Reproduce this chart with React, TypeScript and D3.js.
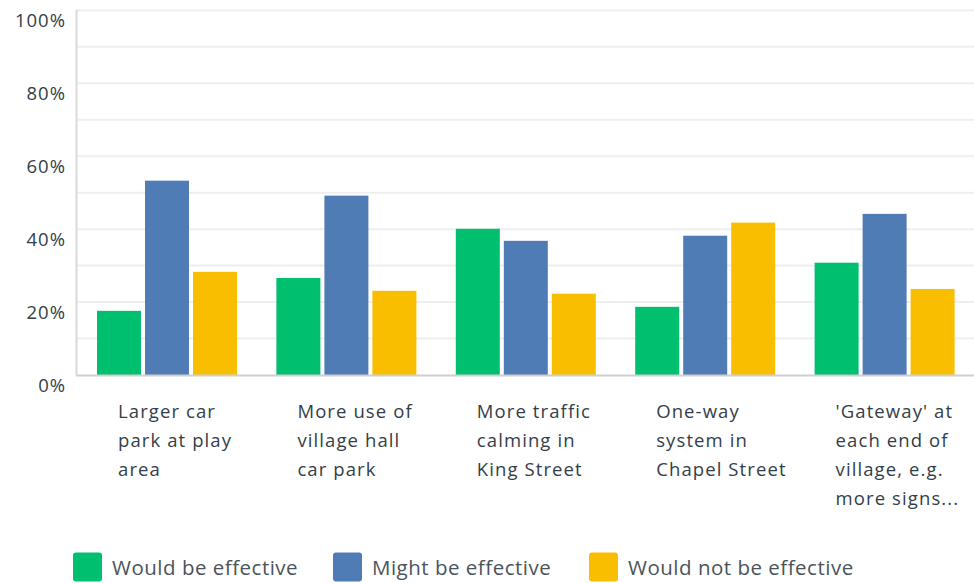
import React from "react";
import * as d3 from "d3";

const categories: string[][] = [
  ["Larger car", "park at play", "area"],
  ["More use of", "village hall", "car park"],
  ["More traffic", "calming in", "King Street"],
  ["One-way", "system in", "Chapel Street"],
  ["'Gateway' at", "each end of", "village, e.g.", "more signs..."],
];
const seriesNames = ["Would be effective", "Might be effective", "Would not be effective"];
const wouldBe = [17.6, 26.6, 40.1, 18.7, 30.8];
const mightBe = [53.3, 49.2, 36.8, 38.2, 44.2];
const wouldNot = [28.3, 23.1, 22.3, 41.8, 23.6];
const yTicks = [0, 20, 40, 60, 80, 100];
const gridTicks = [10, 20, 30, 40, 50, 60, 70, 80, 90, 100];
const colors = ["#00bf6f", "#507cb6", "#f9be00"];

const W = 974;
const H = 583;
const FONT = "'Open Sans', sans-serif";

export default function App() {
  const series = [wouldBe, mightBe, wouldNot];
  const idx = categories.map((_, i) => i);
  const x0 = d3.scaleBand<number>().domain(idx).range([77, 974]).padding(0);
  const x1 = d3
    .scaleBand<number>()
    .domain([0, 1, 2])
    .range([20, 160])
    .paddingInner(4 / 48)
    .paddingOuter(0);
  const y = d3.scaleLinear().domain([0, 100]).range([375, 10.4]);

  const legendX = [73, 333, 589];

  return (
    <svg
      width={W}
      height={H}
      style={{ position: "absolute", left: 0, top: 0, background: "#fff" }}
      fontFamily={FONT}
    >
      {gridTicks.map((t) => (
        <line key={t} x1={77} x2={974} y1={y(t)} y2={y(t)} stroke="#eeeeee" strokeWidth={2} />
      ))}
      <line x1={76.5} x2={76.5} y1={y(100) - 1} y2={y(0)} stroke="#d9d9d9" strokeWidth={2} />
      {series.map((vals, s) =>
        vals.map((v, i) => (
          <rect
            key={`${s}-${i}`}
            x={(x0(i) as number) + (x1(s) as number)}
            y={y(v)}
            width={x1.bandwidth()}
            height={y(0) - y(v)}
            fill={colors[s]}
          />
        ))
      )}
      <line x1={76} x2={974} y1={y(0) + 0.5} y2={y(0) + 0.5} stroke="#cfcfcf" strokeWidth={2} />
      {yTicks.map((t) => (
        <text
          key={t}
          x={66}
          y={y(t) + 17}
          textAnchor="end"
          fontSize={18.5}
          letterSpacing={1}
          fill="#333e48"
        >
          {t}%
        </text>
      ))}
      {categories.map((lines, i) => (
        <text key={i} fontSize={18.5} letterSpacing={1.1} fill="#333e48">
          {lines.map((ln, k) => (
            <tspan key={k} x={(x0(i) as number) + 41} y={418.3 + k * 29}>
              {ln}
            </tspan>
          ))}
        </text>
      ))}
      {seriesNames.map((name, s) => (
        <g key={name}>
          <rect x={legendX[s]} y={552.5} width={29} height={29} rx={3} fill={colors[s]} />
          <text
            x={legendX[s] + 39}
            y={574.5}
            fontSize={20.5}
            letterSpacing={0.5}
            fill="#4a545c"
          >
            {name}
          </text>
        </g>
      ))}
    </svg>
  );
}
